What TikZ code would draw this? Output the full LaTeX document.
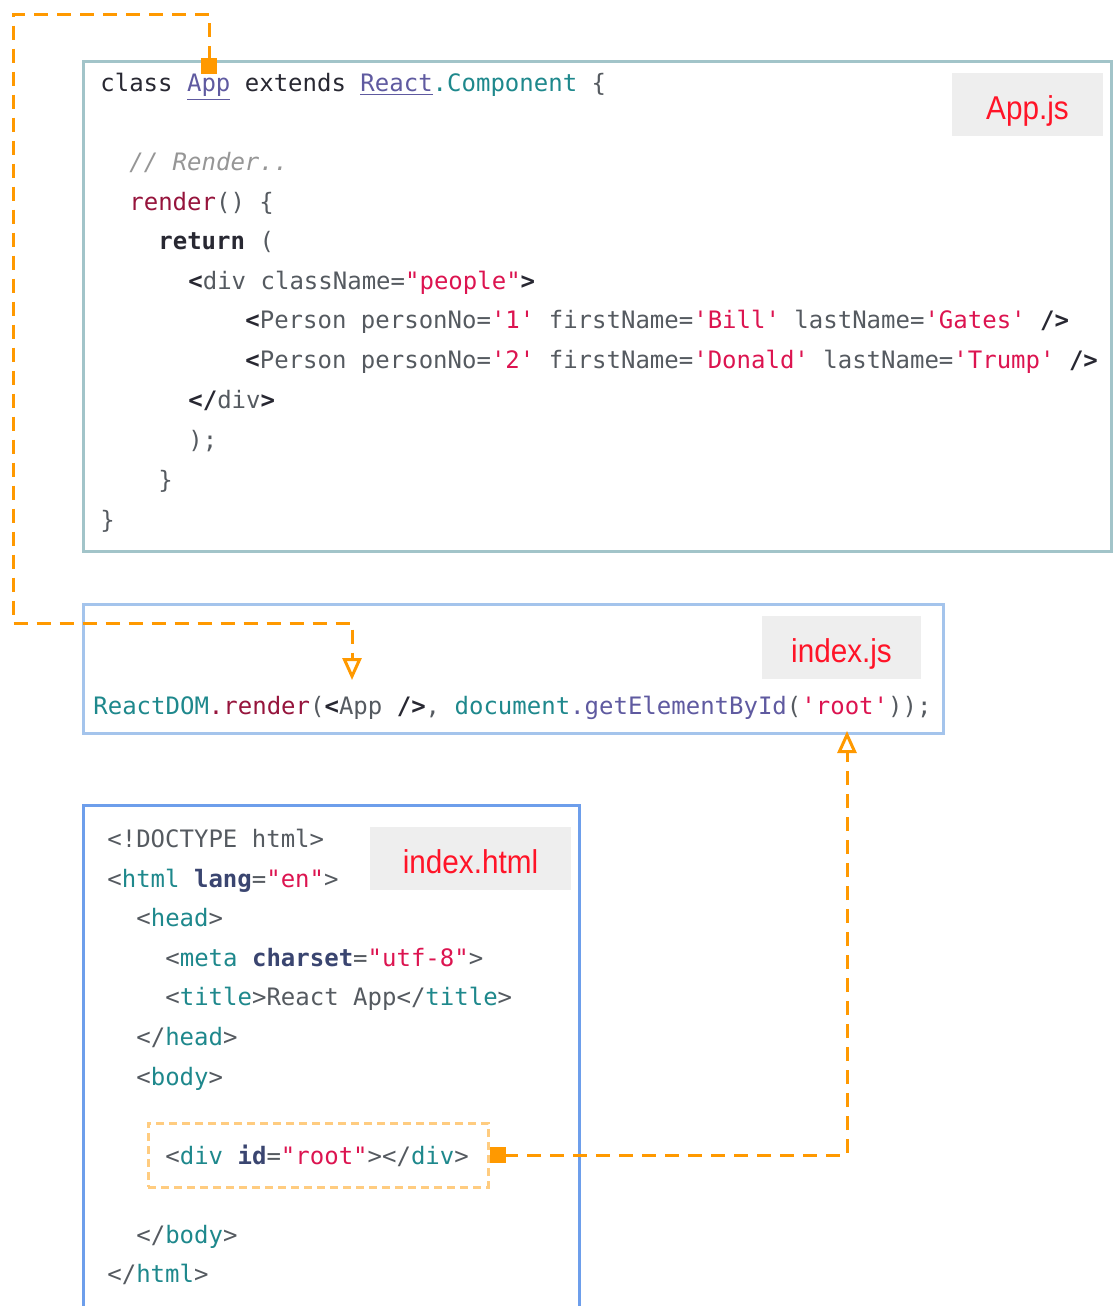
\documentclass[tikz,border=0pt]{standalone}
\usepackage{fontspec}
\setmainfont{Liberation Sans}
\setmonofont{DejaVu Sans Mono}
\newfontfamily\tagfont{Liberation Sans}[FakeStretch=0.9]
\usetikzlibrary{arrows.meta}

\definecolor{appline}{RGB}{162,196,201}
\definecolor{jsline}{RGB}{164,196,236}
\definecolor{htmlline}{RGB}{109,158,235}
\definecolor{tagfill}{RGB}{238,238,238}
\definecolor{tagred}{RGB}{255,20,40}
\definecolor{flowcol}{RGB}{255,153,0}
\definecolor{rootcol}{RGB}{255,204,128}
\definecolor{codegray}{RGB}{85,90,96}
\definecolor{codedark}{RGB}{40,40,50}
\definecolor{codeteal}{RGB}{30,136,140}
\definecolor{codestr}{RGB}{220,20,80}
\definecolor{codefun}{RGB}{150,20,60}
\definecolor{coderef}{RGB}{95,90,160}
\definecolor{codenote}{RGB}{150,150,150}
\definecolor{codeattr}{RGB}{58,69,112}

\newcommand{\jsdark}[1]{\textcolor{codedark}{#1}}
\newcommand{\jsbold}[1]{\textcolor{codedark}{\bfseries #1}}
\newcommand{\jsteal}[1]{\textcolor{codeteal}{#1}}
\newcommand{\jsstr}[1]{\textcolor{codestr}{#1}}
\newcommand{\jsfun}[1]{\textcolor{codefun}{#1}}
\newcommand{\jsref}[1]{\textcolor{coderef}{\underline{#1}}}
\newcommand{\htattr}[1]{\textcolor{codeattr}{\bfseries #1}}

\begin{document}
\begin{tikzpicture}[x=0.5pt,y=-0.5pt,
	codeline/.style={anchor=mid west,inner sep=0pt,yshift=-1.5pt,text=codegray,font=\ttfamily\fontsize{12}{14}\selectfont},
	filebox/.style={draw,line width=1.5pt,inner sep=0pt},
	filetag/.style={fill=tagfill,text=tagred,minimum height=31.5pt,inner sep=0pt,
		text height=14.5pt,text depth=0pt,font=\tagfont\fontsize{16.5}{18}\selectfont},
	flow/.style={draw=flowcol,line width=1.5pt,dash pattern=on 7pt off 4.5pt,
		{Square[length=8pt,width=8pt]}-{Triangle[open,length=11pt,width=9.5pt]}}]
	
	\clip (0,0) rectangle (1113,1306);
	
	% file boxes
	\node[filebox,draw=appline,minimum width=514pt,minimum height=245pt] (appbox) at (597,306) {};
	\node[filebox,draw=jsline,minimum width=430pt,minimum height=64.5pt] (jsbox) at (513,668.5) {};
	\node[filebox,draw=htmlline,minimum width=248pt,minimum height=257.5pt] (htmlbox) at (331,1062.5) {};
	
	\node[filetag,minimum width=75.5pt] (apptag) at (1027.5,104.5) {App.js};
	\node[filetag,minimum width=79.5pt] (jstag) at (841.5,647.5) {index.js};
	\node[filetag,minimum width=100.5pt] (htmltag) at (470.5,858.5) {index.html};
	
	% App.js
	\node[codeline] (a1) at (100,83) {\jsdark{class} \jsref{App} \jsdark{extends} \jsref{React}\jsteal{.Component} \{};
	\node[codeline,text=codenote] (a2) at (129,162) {\itshape // Render..};
	\node[codeline] (a3) at (129,202) {\jsfun{render}() \{};
	\node[codeline] (a4) at (158,241) {\jsbold{return} (};
	\node[codeline] (a5) at (188,281) {\jsbold{<}div className=\jsstr{"people"}\jsbold{>}};
	\node[codeline] (a6) at (245,320) {\jsbold{<}Person personNo=\jsstr{'1'} firstName=\jsstr{'Bill'} lastName=\jsstr{'Gates'} \jsbold{/>}};
	\node[codeline] (a7) at (245,360) {\jsbold{<}Person personNo=\jsstr{'2'} firstName=\jsstr{'Donald'} lastName=\jsstr{'Trump'} \jsbold{/>}};
	\node[codeline] (a8) at (188,400) {\jsbold{</}div\jsbold{>}};
	\node[codeline] (a9) at (188,440) {);};
	\node[codeline] (a10) at (158,480) {\}};
	\node[codeline] (a11) at (100,520) {\}};
	
	% index.js
	\node[codeline] (j1) at (93,706) {\jsteal{ReactDOM}\jsfun{.render}(\jsbold{<}App \jsbold{/>}, \jsteal{document}\textcolor{coderef}{.getElementById}(\jsstr{'root'}));};
	
	% index.html
	\node[codeline] (h1) at (107,839) {<!DOCTYPE html>};
	\node[codeline] (h2) at (107,879) {<\jsteal{html} \htattr{lang}=\jsstr{"en"}>};
	\node[codeline] (h3) at (136,918) {<\jsteal{head}>};
	\node[codeline] (h4) at (165,958) {<\jsteal{meta} \htattr{charset}=\jsstr{"utf-8"}>};
	\node[codeline] (h5) at (165,997) {<\jsteal{title}>React App</\jsteal{title}>};
	\node[codeline] (h6) at (136,1037) {</\jsteal{head}>};
	\node[codeline] (h7) at (136,1077) {<\jsteal{body}>};
	\node[draw=rootcol,line width=1.5pt,dash pattern=on 4pt off 2.5pt,minimum width=170pt,minimum height=32pt] (rootbox) at (318,1155) {};
	\node[codeline] (h8) at (165,1156) {<\jsteal{div} \htattr{id}=\jsstr{"root"}></\jsteal{div}>};
	\node[codeline] (h9) at (136,1235) {</\jsteal{body}>};
	\node[codeline] (h10) at (107,1274) {</\jsteal{html}>};
	
	% links
	\coordinate (appsrc) at (209,74);
	\coordinate (appdst) at (352,680);
	\coordinate (rootdst) at (847,731);
	\draw[flow] (appsrc) -- (209,14) -- (13,14) -- (13,623) -- (352,623) -- (appdst);
	\draw[flow] (rootbox.east) -| (rootdst);
	
\end{tikzpicture}
\end{document}
